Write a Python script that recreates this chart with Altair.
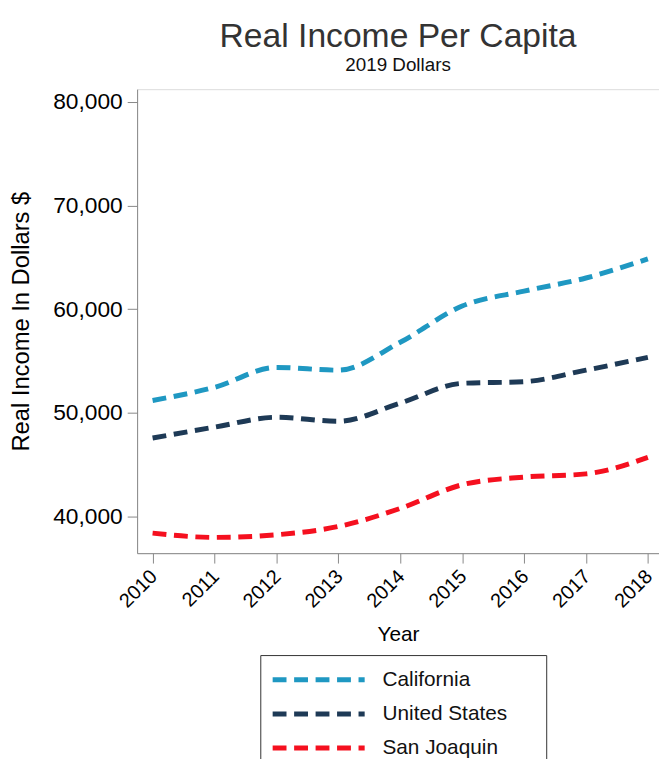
import altair as alt
import pandas as pd

years = [2010, 2011, 2012, 2013, 2014, 2015, 2016, 2017, 2018]
california = [51210, 52480, 54390, 54130, 56820, 60310, 61740, 63010, 64850]
united_states = [47590, 48640, 49590, 49210, 50960, 52860, 53020, 54130, 55370]
san_joaquin = [38430, 38020, 38270, 39070, 40810, 43090, 43830, 44140, 45730]

series_names = ["California", "United States", "San Joaquin"]
series_colors = ["#1f98c2", "#1e3a56", "#f5101f"]
y_ticks = [40000, 50000, 60000, 70000, 80000]

rows = []
for name, vals in zip(series_names, [california, united_states, san_joaquin]):
    for yr, v in zip(years, vals):
        rows.append({"Year": yr, "Income": v, "Series": name})
df = pd.DataFrame(rows)

FONT = "Liberation Sans"

chart = (
    alt.Chart(df)
    .mark_line(strokeWidth=5, strokeDash=[14, 7.7], interpolate="monotone", strokeCap="butt")
    .encode(
        x=alt.X(
            "Year:Q",
            scale=alt.Scale(domain=[2009.75, 2018.18], nice=False, zero=False),
            axis=alt.Axis(
                values=years,
                format="d",
                title="Year",
                labelAngle=-45,
                labelAlign="right",
                labelBaseline="middle",
                labelFontSize=20,
                labelPadding=10,
                labelOffset=1,
                tickSize=10,
                titleFontSize=21,
                titleFontWeight="normal",
                titlePadding=13,
                grid=False,
            ),
        ),
        y=alt.Y(
            "Income:Q",
            scale=alt.Scale(domain=[36500, 81200], nice=False, zero=False),
            axis=alt.Axis(
                values=y_ticks,
                format=",.0f",
                title="Real Income In Dollars $",
                labelFontSize=23,
                labelPadding=5,
                tickSize=10,
                titleFontSize=24,
                titleFontWeight="normal",
                titlePadding=19,
                grid=False,
            ),
        ),
        color=alt.Color(
            "Series:N",
            scale=alt.Scale(domain=series_names, range=series_colors),
            sort=series_names,
            legend=alt.Legend(
                orient="none",
                legendX=124.5,
                legendY=572,
                direction="vertical",
                title=".",
                titleColor="white",
                titleOrient="right",
                titleFontSize=10,
                titlePadding=26,
                symbolType="stroke",
                symbolSize=8649,
                symbolStrokeWidth=5,
                symbolDash=[14, 7.7],
                clipHeight=30,
                rowPadding=4.5,
                padding=10,
                labelOffset=15.5,
                labelFontSize=21,
                labelFont=FONT,
                labelColor="#111",
                strokeColor="#333",
                fillColor="white",
            ),
        ),
    )
    .properties(
        width=527.5,
        height=469,
        autosize=alt.AutoSizeParams(type="none"),
        padding={"left": 130.5, "top": 78, "right": 0, "bottom": 204},
        title=alt.TitleParams(
            text="Real Income Per Capita",
            subtitle="2019 Dollars",
            anchor="middle",
            frame="group",
            fontSize=34,
            font=FONT,
            fontWeight="normal",
            color="#333",
            subtitleFontSize=19,
            subtitleFont=FONT,
            subtitleColor="#111",
            offset=14,
        ),
    )
    .configure_view(stroke="transparent", strokeWidth=0)
    .configure_axis(
        labelFont=FONT,
        titleFont=FONT,
        labelColor="#222",
        titleColor="#222",
        domainColor="#222",
        domainWidth=1.5,
        tickColor="#222",
        tickWidth=1.5,
    )
    .configure(background="white")
)

chart.save("out.html", embed_options={"renderer": "svg", "actions": False})
